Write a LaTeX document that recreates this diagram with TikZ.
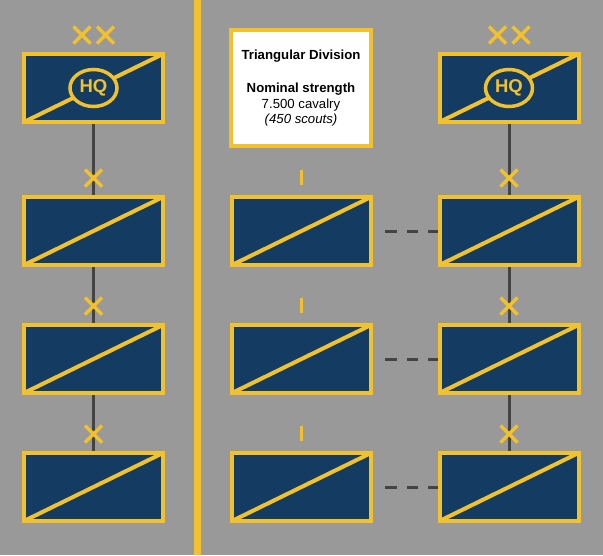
\documentclass[tikz,border=0pt]{standalone}
\usepackage{fontspec}
\setmainfont{Liberation Sans}
\usetikzlibrary{shapes.geometric}
\definecolor{bggray}{HTML}{999999}
\definecolor{navy}{HTML}{143B61}
\definecolor{gold}{HTML}{F2C12E}
\definecolor{linkgray}{HTML}{444444}
\pgfdeclarelayer{bg}
\pgfdeclarelayer{links}
\pgfsetlayers{bg,links,main}
\tikzset{
  unitbox/.style={draw=gold, fill=navy, line width=4pt, minimum width=139pt, minimum height=68pt, inner sep=0pt,
    path picture={\draw[diag] (path picture bounding box.south west) -- (path picture bounding box.north east);}},
  diag/.style={draw=gold, line width=4pt},
  echelon/.style={draw=gold, line width=3.5pt},
  link/.style={draw=linkgray, line width=3pt},
  dashlink/.style={draw=linkgray, line width=3pt, dash pattern=on 11.7pt off 10pt, dash phase=11.7pt, shorten <=2pt},
  infobox/.style={draw=gold, fill=white, line width=4pt, minimum width=140pt, minimum height=116pt, inner sep=0pt, align=center, font=\fontsize{13.2}{15.5}\selectfont},
  hqlabel/.style={draw=gold, fill=navy, line width=3.5pt, ellipse, minimum width=47pt, minimum height=37pt, inner sep=0pt, text=gold, font=\fontsize{18.5}{18.5}\selectfont\bfseries},
}
\newcommand{\xsign}[2]{%
  \draw[echelon] ([shift={(#2-8.5,-25.5)}]#1.north) -- ([shift={(#2+8.5,-8.5)}]#1.north)
                 ([shift={(#2-8.5,-8.5)}]#1.north) -- ([shift={(#2+8.5,-25.5)}]#1.north);}
\newcommand{\isign}[1]{%
  \draw[echelon] ([shift={(0,-10)}]#1.north) -- ([shift={(0,-25)}]#1.north);}
\begin{document}
\begin{tikzpicture}[x=1pt,y=-1pt]
\begin{pgfonlayer}{bg}
\fill[bggray] (0,0) rectangle (603,555);
\end{pgfonlayer}
\useasboundingbox (0,0) rectangle (603,555);
\fill[gold] (193.5,0) rectangle (200.5,555);
% left column
\node[unitbox] (lhq) at (93.5,88) {};
\node[unitbox] (l2) at (93.5,231) {};
\node[unitbox] (l3) at (93.5,359) {};
\node[unitbox] (l4) at (93.5,487) {};
% middle column
\node[infobox] (info) at (301,88) {\textbf{Triangular Division}\\[18pt]\textbf{Nominal strength}\\7.500 cavalry\\\textit{(450 scouts)}};
\node[unitbox] (m2) at (301.5,231) {};
\node[unitbox] (m3) at (301.5,359) {};
\node[unitbox] (m4) at (301.5,487) {};
% right column
\node[unitbox] (rhq) at (509,88) {};
\node[unitbox] (r2) at (509,231) {};
\node[unitbox] (r3) at (509,359) {};
\node[unitbox] (r4) at (509,487) {};
% HQ labels
\node[hqlabel] (lhqlabel) at (lhq.center) {HQ};
\node[hqlabel] (rhqlabel) at (rhq.center) {HQ};
% connectors
\begin{pgfonlayer}{links}
\draw[link] (lhq.south) -- (l2.north);
\draw[link] (l2.south) -- (l3.north);
\draw[link] (l3.south) -- (l4.north);
\draw[link] (rhq.south) -- (r2.north);
\draw[link] (r2.south) -- (r3.north);
\draw[link] (r3.south) -- (r4.north);
\end{pgfonlayer}
\draw[dashlink] (m2.east) -- (r2.west);
\draw[dashlink] (m3.east) -- (r3.west);
\draw[dashlink] (m4.east) -- (r4.west);
% echelon marks
\xsign{lhq}{-11.5}\xsign{lhq}{12}
\xsign{rhq}{-11.5}\xsign{rhq}{12}
\xsign{l2}{0}\xsign{l3}{0}\xsign{l4}{0}
\xsign{r2}{0}\xsign{r3}{0}\xsign{r4}{0}
\isign{m2}\isign{m3}\isign{m4}
\end{tikzpicture}
\end{document}
